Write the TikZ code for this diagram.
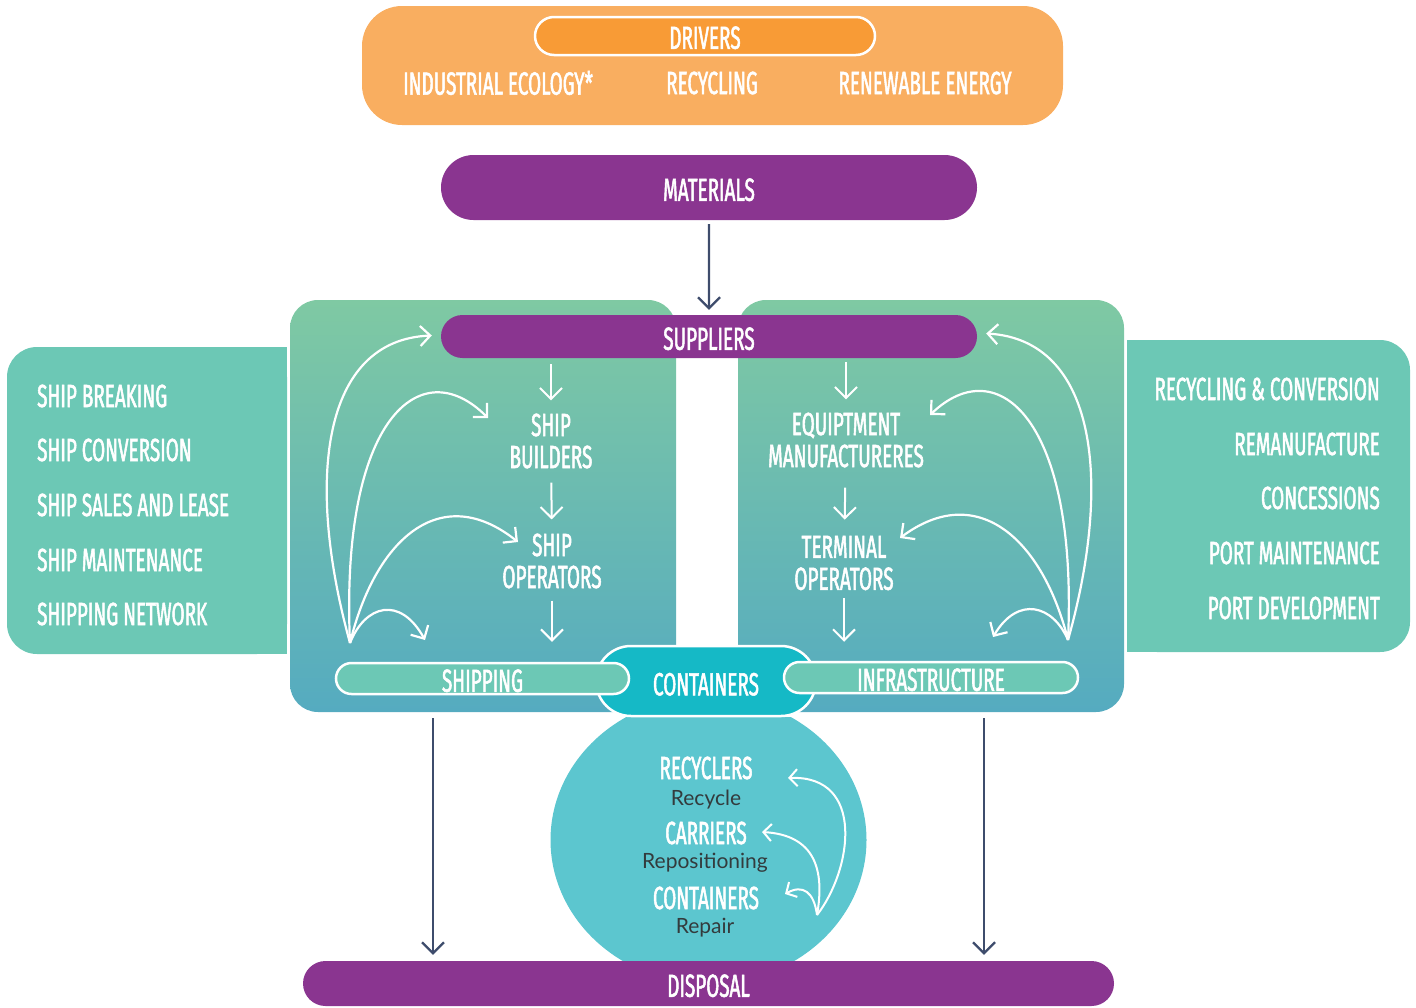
\documentclass[tikz,border=0pt]{standalone}
\usepackage{fontspec}
\usetikzlibrary{arrows.meta,shapes.misc,shapes.geometric,calc}
\newfontfamily\condf{Fira Sans}[FakeStretch=0.59,FakeBold=1.6]
\newfontfamily\bodyf{Lato}
\definecolor{drvbg}{HTML}{F9AE60}
\definecolor{drvpill}{HTML}{F89B36}
\definecolor{purp}{HTML}{8A3590}
\definecolor{sidec}{HTML}{6CC8B5}
\definecolor{pantop}{HTML}{7FC9A3}
\definecolor{panbot}{HTML}{55ABC0}
\definecolor{contc}{HTML}{15B9C6}
\definecolor{ellc}{HTML}{5CC6CF}
\definecolor{navy}{HTML}{3E4C6C}
\definecolor{txtdark}{HTML}{333B3D}
\begin{document}
\begin{tikzpicture}[x=1pt,y=-1pt,
  captxt/.style={font=\condf\fontsize{32}{32}\selectfont, text=white, inner sep=0pt, align=center},
  smtxt/.style={font=\bodyf\fontsize{21}{21}\selectfont, text=txtdark, inner sep=0pt, anchor=base},
  pillbox/.style={rounded rectangle, inner sep=0pt, text height=27pt, font=\condf\fontsize{32}{32}\selectfont, text=white},
  panelbox/.style={rectangle, rounded corners=28pt, top color=pantop, bottom color=panbot, draw=none, inner sep=0pt, minimum width=386pt, minimum height=412pt},
  wflow/.style={draw=white, line width=2pt, -{Straight Barb[length=11pt,width=22pt]}},
  wcurve/.style={draw=white, line width=2.2pt, -{Straight Barb[length=10pt,width=20pt]}},
  ecurve/.style={draw=white, line width=2pt, -{Straight Barb[length=8pt,width=17pt]}},
  nflow/.style={draw=navy, line width=2.2pt, -{Straight Barb[length=11pt,width=22pt]}},
]
\useasboundingbox (0,0) rectangle (1416,1007);

% drivers
\node[rectangle, rounded corners=40pt, fill=drvbg, inner sep=0pt, minimum width=701pt, minimum height=119pt] (drv) at (712.5,65.5) {};
\node[pillbox, fill=drvpill, draw=white, line width=2.5pt, minimum width=340pt, minimum height=38pt, text height=26pt] (drvtitle) at (705,36) {DRIVERS};
\node[captxt] (ie) at (498,83) {INDUSTRIAL ECOLOGY*};
\node[captxt] (rc) at (712,83) {RECYCLING};
\node[captxt] (re) at (925,83) {RENEWABLE ENERGY};

% materials
\node[pillbox, fill=purp, minimum width=536pt, minimum height=65pt] (mat) at (709,187.5) {MATERIALS};

% ellipse (recyclers pool)
\begin{scope}
\clip (0,717) rectangle (1416,962);
\node[ellipse, fill=ellc, inner sep=0pt, minimum width=316pt, minimum height=288pt] (pool) at (708.5,840) {};
\end{scope}

% panels
\node[panelbox] (lp) at (483,506) {};
\node[panelbox] (rp) at (931,506) {};

% side panels
\node[rectangle, rounded corners=30pt, fill=sidec, inner sep=0pt, minimum width=280pt, minimum height=307pt] (ls) at (147,500.5) {};
\fill[sidec] (200,347) rectangle (287,654);
\node[rectangle, rounded corners=30pt, fill=sidec, inner sep=0pt, minimum width=283pt, minimum height=312pt] (rs) at (1268.5,496) {};
\fill[sidec] (1127,340) rectangle (1250,652);

\node[captxt, anchor=west] (l1) at (37,396) {SHIP BREAKING};
\node[captxt, anchor=west] (l2) at (37,450) {SHIP CONVERSION};
\node[captxt, anchor=west] (l3) at (37,505) {SHIP SALES AND LEASE};
\node[captxt, anchor=west] (l4) at (37,560) {SHIP MAINTENANCE};
\node[captxt, anchor=west] (l5) at (37,614) {SHIPPING NETWORK};

\node[captxt, anchor=east] (r1) at (1380,389) {RECYCLING \& CONVERSION};
\node[captxt, anchor=east] (r2) at (1380,444) {REMANUFACTURE};
\node[captxt, anchor=east] (r3) at (1380,498) {CONCESSIONS};
\node[captxt, anchor=east] (r4) at (1380,553) {PORT MAINTENANCE};
\node[captxt, anchor=east] (r5) at (1380,608) {PORT DEVELOPMENT};

% suppliers
\node[pillbox, fill=purp, minimum width=536pt, minimum height=43pt] (sup) at (709,336.5) {SUPPLIERS};
\draw[nflow, shorten <=4pt, shorten >=5pt] (mat) -- (sup);

% inner texts
\node[captxt] (sb) at (551,441) {SHIP\\BUILDERS};
\node[captxt] (so) at (552,561) {SHIP\\OPERATORS};
\node[captxt] (em) at (846,440) {EQUIPTMENT\\MANUFACTURERES};
\node[captxt] (to) at (844,563) {TERMINAL\\OPERATORS};

% bottom pills
\node[pillbox, fill=contc, draw=white, line width=2.5pt, minimum width=220pt, minimum height=70pt, text height=29pt] (cont) at (706,681) {CONTAINERS};
\node[pillbox, fill=sidec, draw=white, line width=2.5pt, minimum width=293pt, minimum height=31pt] (shp) at (482.5,678.5) {SHIPPING};
\node[pillbox, fill=sidec, draw=white, line width=2.5pt, minimum width=294pt, minimum height=31pt] (inf) at (931,677.5) {INFRASTRUCTURE};

% vertical white flows
\draw[wflow, shorten <=6pt, shorten >=13pt] (sup.south -| sb) -- (sb);
\draw[wflow, shorten <=14pt, shorten >=14pt] (sb) -- (so);
\draw[wflow, shorten <=12pt, shorten >=20pt] (so) -- (so |- shp.north);
\draw[wflow, shorten <=4pt, shorten >=13pt] (sup.south -| em) -- (em);
\draw[wflow, shorten <=20pt, shorten >=16pt] (em) -- (to);
\draw[wflow, shorten <=8pt, shorten >=19pt] (to) -- (to |- inf.north);

% left feedback curves
\coordinate (lsrc) at (350,643);
\coordinate (lt1) at ($(sup.west)+(-9,-1)$);
\coordinate (lt2) at (488,418);
\coordinate (lt3) at (518,542);
\coordinate (lt4) at (425,640);
\draw[wcurve] (lsrc) .. controls (305,480) and (322,340) .. (lt1);
\draw[wcurve] (lsrc) .. controls (340,420) and (420,350) .. (lt2);
\draw[wcurve] (lsrc) .. controls (375,540) and (440,480) .. (lt3);
\draw[wcurve] (lsrc) .. controls (365,605) and (400,595) .. (lt4);

% right feedback curves
\coordinate (rsrc) at (1068,640);
\coordinate (rt1) at ($(sup.east)+(9,-3)$);
\coordinate (rt2) at (930,415);
\coordinate (rt3) at (900,538);
\coordinate (rt4) at (993,637);
\draw[wcurve] (rsrc) .. controls (1113,480) and (1096,340) .. (rt1);
\draw[wcurve] (rsrc) .. controls (1078,420) and (998,350) .. (rt2);
\draw[wcurve] (rsrc) .. controls (1043,540) and (978,480) .. (rt3);
\draw[wcurve] (rsrc) .. controls (1053,605) and (1018,595) .. (rt4);

% ellipse texts
\node[captxt] (rcy) at (706,768) {RECYCLERS};
\node[smtxt] (rcyt) at (706,805) {Recycle};
\node[captxt] (car) at (706,833) {CARRIERS};
\node[smtxt] (cart) at (705,868) {Repositioning};
\node[captxt] (con) at (706,898) {CONTAINERS};
\node[smtxt] (cont2) at (705,933) {Repair};

\coordinate (esrc) at (817,915);
\coordinate (et1) at (788,778);
\coordinate (et2) at (762,832);
\coordinate (et3) at (785,894);
\draw[ecurve] (esrc) .. controls (852,870) and (866,775) .. (et1);
\draw[ecurve] (esrc) .. controls (825,870) and (815,835) .. (et2);
\draw[ecurve] (esrc) .. controls (814,892) and (803,884) .. (et3);

% disposal
\node[pillbox, fill=purp, minimum width=811pt, minimum height=45pt] (disp) at (708.5,983.5) {DISPOSAL};
\coordinate (lsd) at (433,718);
\coordinate (rsd) at (984,718);
\draw[nflow, shorten >=6pt] (lsd) -- (lsd |- disp.north);
\draw[nflow, shorten >=6pt] (rsd) -- (rsd |- disp.north);
\end{tikzpicture}
\end{document}
